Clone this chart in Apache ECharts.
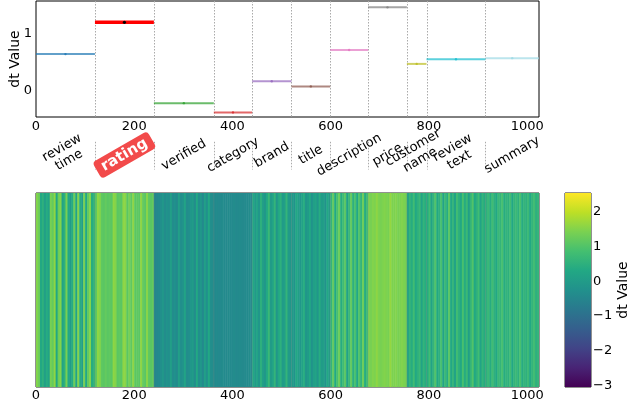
<!DOCTYPE html>
<html><head><meta charset="utf-8">
<script src="https://cdn.jsdelivr.net/npm/echarts@6/dist/echarts.min.js"></script>
<style>html,body{margin:0;padding:0;background:#fff}#c{width:627px;height:406px}</style>
</head><body><div id="c"></div>
<script>
// ---------- data ----------
const segmentNames = ['review\ntime','rating','verified','category','brand','title','description','price','customer\nname','review\ntext','summary'];
const segmentBounds = [0,120,240,362,440,520,599,676,755,795,915,1024];
const segmentMeans = [0.64,1.19,-0.21,-0.37,0.17,0.08,0.71,1.45,0.47,0.55,0.57];
const xTicks = [0,200,400,600,800,1000];
const yTicks = [0,1];
const colorbarTicks = [-3,-2,-1,0,1,2];
const colorMin = -3.05, colorMax = 2.55;

const heatReviewTime = [1.5,1.3,0.3,0.5,0.1,0.4,0.2,1.4,1.2,1.6,0.3,1.3,1.5,0.2,0.5,1.4,0.3,0.0,0.4,1.3,0.2,1.5,0.4,0.1,1.4,0.3,1.2,1.5,0.4,0.6];
const heatRating = [1.1,1.6,1.5,1.15,1.1,1.2,1.1,1.15,1.1,1.6,1.5,1.1,1.15,1.1,1.6,1.55,1.1,1.4,1.15,1.6,1.1,1.15,1.1,1.6,1.2,1.1,1.55,1.15,1.1,1.2];
const heatVerified = [-0.5,-0.45,-0.4,-0.3,-0.1,-0.35,-0.2,-0.3,0.1,-0.35,-0.25,-0.4,0.1,-0.3,-0.2,0.2,-0.35,-0.3,-0.1,0.0,-0.35,0.3,-0.3,-0.1,-0.4,0.1,-0.25,0.3,-0.3,-0.35];
const heatCategory = [-0.4,-0.38,-0.42,-0.4,-0.36,-0.4,-0.42,-0.38,-0.4,-0.4,-0.37,-0.41,-0.4,-0.38,-0.4,-0.42,-0.39,-0.4,-0.36,-0.4];
const heatBrand = [0.3,0.0,0.2,-0.1,0.5,0.1,-0.1,0.3,0.7,0.0,0.2,0.6,-0.1,0.3,0.5,0.0,0.1,0.6,0.0,-0.1];
const heatTitle = [0.0,-0.2,0.3,0.1,-0.1,0.2,0.4,-0.1,0.0,0.3,-0.2,0.1,0.2,-0.1,0.4,0.0,0.1,-0.2,0.3,0.0];
const heatDescription = [0.6,1.2,0.3,0.9,1.3,0.4,0.8,1.1,0.2,0.7,1.2,0.5,0.9,0.3,1.0,0.6,1.3,0.4,0.8];
const heatPrice = [1.45,1.4,1.5,1.45,1.6,1.45,1.4,1.45,1.5,1.45,1.4,1.65,1.45,1.45,1.5,1.4,1.45,1.5,1.45,1.4];
const heatCustomerName = [0.2,0.6,0.4,0.8,0.3,0.5,0.7,0.2,0.6,0.4];
const heatReviewText = [0.4,0.8,0.2,0.6,1.0,0.3,0.5,0.9,0.2,0.7,0.4,1.1,0.3,0.6,0.2,0.8,0.5,0.3,0.9,0.4,0.7,0.1,0.6,1.0,0.3,0.5,0.8,0.2,0.6,0.4];
const heatSummary = [0.5,0.7,0.4,0.8,0.5,0.3,0.7,0.6,0.9,0.4,0.6,0.5,0.8,0.3,0.6,0.7,0.5,0.9,0.4,0.6,0.5,0.7,0.3,0.6,0.8,0.5,0.6];

// ---------- styles ----------
const segColors = ['#1f77b4','#ff0000','#2ca02c','#d62728','#9467bd','#8c564b','#e377c2','#7f7f7f','#bcbd22','#17becf','#9edae5'];
const viridis = ['#440154','#482475','#414487','#355f8d','#2a788e','#21918c','#22a884','#44bf70','#7ad151','#bddf26','#fde725'];
const FONT = 'DejaVu Sans';

const heatArrays = [heatReviewTime,heatRating,heatVerified,heatCategory,heatBrand,heatTitle,heatDescription,heatPrice,heatCustomerName,heatReviewText,heatSummary];
const heatData = [];
heatArrays.forEach((arr, i) => {
  const b0 = segmentBounds[i], b1 = segmentBounds[i+1], w = (b1-b0)/arr.length;
  arr.forEach((v, j) => heatData.push([b0 + j*w, b0 + (j+1)*w, v]));
});
const segData = segmentMeans.map((m, i) => [segmentBounds[i], segmentBounds[i+1], m, i]);
const sepData = segmentBounds.slice(1, -1).map(b => [b]);
const labelData = segmentNames.map((n, i) => [(segmentBounds[i]+segmentBounds[i+1])/2, i]);
const plain = v => String(v).replace('-', '\u2212');

const chart = echarts.init(document.getElementById('c'));
chart.setOption({
  animation: false,
  textStyle: {fontFamily: FONT},
  grid: [
    {left: 36, top: 1, width: 503, height: 116, show: true, borderColor: '#000', borderWidth: 1, backgroundColor: 'transparent', outerBoundsMode: 'none', containLabel: false},
    {left: 36, top: 193, width: 503, height: 194, show: true, borderColor: '#222', borderWidth: 1, backgroundColor: 'transparent', outerBoundsMode: 'none', containLabel: false},
    {left: 565, top: 193, width: 26, height: 194, show: true, borderColor: '#222', borderWidth: 1, backgroundColor: 'transparent', outerBoundsMode: 'none', containLabel: false}
  ],
  xAxis: [
    {gridIndex: 0, type: 'value', min: 0, max: 1024, axisLine: {show: false}, axisTick: {show: false}, splitLine: {show: false},
     axisLabel: {customValues: xTicks, fontSize: 13, color: '#000', margin: 3, fontFamily: FONT, formatter: plain}},
    {gridIndex: 1, type: 'value', min: 0, max: 1024, axisLine: {show: false}, axisTick: {show: false}, splitLine: {show: false},
     axisLabel: {customValues: xTicks, fontSize: 13, color: '#000', margin: 2, fontFamily: FONT, formatter: plain}},
    {gridIndex: 2, type: 'value', min: 0, max: 1, show: false}
  ],
  yAxis: [
    {gridIndex: 0, type: 'value', min: -0.45, max: 1.56, axisLine: {show: false}, axisTick: {show: false}, splitLine: {show: false},
     axisLabel: {customValues: yTicks, fontSize: 13, color: '#000', margin: 4, fontFamily: FONT, formatter: plain},
     name: 'dt Value', nameLocation: 'middle', nameGap: 14, nameMoveOverlap: false, nameTextStyle: {fontSize: 14, color: '#000', fontFamily: FONT}},
    {gridIndex: 1, type: 'value', min: 0, max: 1, show: false},
    {gridIndex: 2, type: 'value', min: colorMin, max: colorMax, position: 'right', axisLine: {show: false},
     axisTick: {show: true, inside: false, length: 3, customValues: colorbarTicks, lineStyle: {color: '#000'}}, splitLine: {show: false},
     axisLabel: {customValues: colorbarTicks, fontSize: 13, color: '#000', margin: 2, fontFamily: FONT, formatter: plain},
     name: 'dt Value', nameLocation: 'middle', nameGap: 22, nameTextStyle: {fontSize: 14, color: '#000', fontFamily: FONT}}
  ],
  visualMap: {show: false, type: 'continuous', seriesIndex: 3, dimension: 2, min: colorMin, max: colorMax, inRange: {color: viridis}},
  series: [
    { // separators in top plot + label area
      type: 'custom', xAxisIndex: 0, yAxisIndex: 0, data: sepData, silent: true, z: 1,
      renderItem: (params, api) => {
        const x = api.value(0);
        const a = api.coord([x, 1.56]), b = api.coord([x, -0.45]);
        const c = api.coord([x, -0.88]), d = api.coord([x, -1.36]);
        const st = {stroke: '#aaaaaa', lineWidth: 1, lineDash: [1.5, 1.5]};
        return {type: 'group', children: [
          {type: 'line', shape: {x1: Math.round(a[0])+0.5, y1: a[1], x2: Math.round(a[0])+0.5, y2: b[1]}, style: st},
          {type: 'line', shape: {x1: Math.round(c[0])+0.5, y1: c[1], x2: Math.round(c[0])+0.5, y2: d[1]}, style: st}
        ]};
      }
    },
    { // segment means
      type: 'custom', xAxisIndex: 0, yAxisIndex: 0, data: segData, z: 3,
      renderItem: (params, api) => {
        const i = api.value(3);
        const p0 = api.coord([api.value(0), api.value(2)]);
        const p1 = api.coord([api.value(1), api.value(2)]);
        const isR = i === 1;
        const col = segColors[i];
        return {type: 'group', children: [
          {type: 'line', shape: {x1: p0[0], y1: p0[1], x2: p1[0], y2: p1[1]},
           style: {stroke: col, lineWidth: isR ? 3.5 : 2, opacity: isR ? 1 : 0.7}},
          {type: 'circle', shape: {cx: (p0[0]+p1[0])/2, cy: p0[1], r: isR ? 1.6 : 1.2},
           style: {fill: isR ? '#000' : col, opacity: isR ? 1 : 0.8}}
        ]};
      }
    },
    { // rotated segment labels
      type: 'custom', xAxisIndex: 0, yAxisIndex: 0, data: labelData, z: 4, silent: true,
      renderItem: (params, api) => {
        const i = api.value(1);
        const p = api.coord([api.value(0), 0]);
        const isR = i === 1;
        const two = segmentNames[i].indexOf('\n') >= 0;
        const style = isR
          ? {text: segmentNames[i], fill: '#fff', fontSize: 15, fontWeight: 'bold', fontFamily: FONT, align: 'center', verticalAlign: 'middle',
             backgroundColor: '#f24a4a', borderRadius: 4, padding: [2, 6, 2, 6]}
          : {text: segmentNames[i], fill: '#000', fontSize: 13, fontFamily: FONT, align: 'center', verticalAlign: 'middle', lineHeight: 14};
        return {type: 'text', x: p[0], y: two ? 154 : 155, rotation: Math.PI/6, style: style};
      }
    },
    { // heatmap stripes
      type: 'custom', xAxisIndex: 1, yAxisIndex: 1, data: heatData, clip: true, z: 2,
      encode: {x: [0, 1]},
      renderItem: (params, api) => {
        const p0 = api.coord([api.value(0), 1]);
        const p1 = api.coord([api.value(1), 0]);
        return {type: 'rect', shape: {x: p0[0], y: p0[1], width: p1[0]-p0[0]+0.5, height: p1[1]-p0[1]},
                style: {fill: api.visual('color')}};
      }
    },
    { // faint separators in heatmap
      type: 'custom', xAxisIndex: 1, yAxisIndex: 1, data: sepData, silent: true, z: 3,
      renderItem: (params, api) => {
        const a = api.coord([api.value(0), 1]), b = api.coord([api.value(0), 0]);
        return {type: 'line', shape: {x1: a[0], y1: a[1], x2: b[0], y2: b[1]}, style: {stroke: '#888', lineWidth: 0.8, opacity: 0.35}};
      }
    },
    { // colorbar
      type: 'custom', xAxisIndex: 2, yAxisIndex: 2, data: [[0]], silent: true,
      renderItem: (params, api) => {
        const a = api.coord([0, colorMax]), b = api.coord([1, colorMin]);
        return {type: 'rect', shape: {x: a[0], y: a[1], width: b[0]-a[0], height: b[1]-a[1]},
          style: {fill: {type: 'linear', x: 0, y: 1, x2: 0, y2: 0,
            colorStops: viridis.map((c, k) => ({offset: k/(viridis.length-1), color: c}))}}};
      }
    }
  ]
});
</script></body></html>
